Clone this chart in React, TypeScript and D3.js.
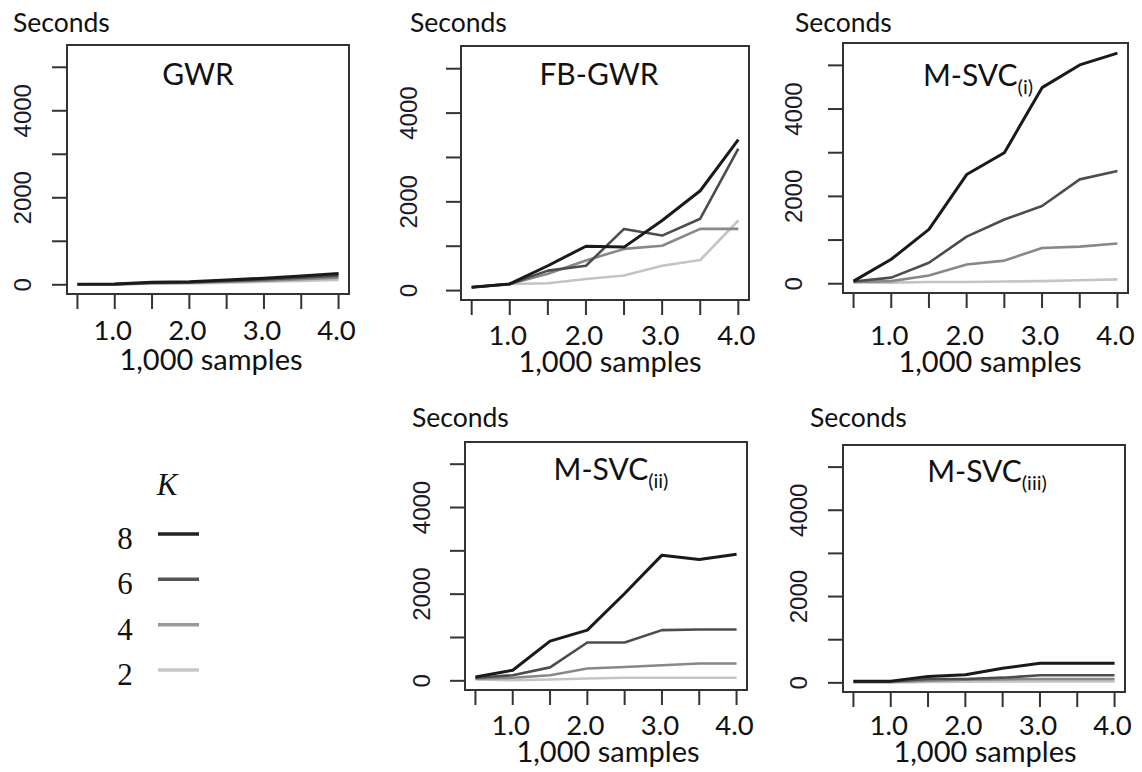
import React from "react";
import * as d3 from "d3";

// ---- Data ----
const xSamples = [0.5, 1.0, 1.5, 2.0, 2.5, 3.0, 3.5, 4.0];
const xTickLabels = [1.0, 2.0, 3.0, 4.0];
const yTicks = [0, 1000, 2000, 3000, 4000, 5000];
const yTickLabels = [0, 2000, 4000];
const kLevels = [8, 6, 4, 2];

const gwrK8 = [15, 20, 60, 70, 110, 150, 200, 260];
const gwrK6 = [10, 15, 45, 55, 90, 120, 160, 210];
const gwrK4 = [8, 10, 35, 45, 70, 95, 130, 160];
const gwrK2 = [5, 8, 25, 30, 50, 70, 90, 110];

const fbK8 = [75, 150, 560, 1000, 980, 1580, 2250, 3400];
const fbK6 = [75, 150, 450, 560, 1390, 1240, 1620, 3200];
const fbK4 = [75, 150, 380, 680, 940, 1010, 1390, 1390];
const fbK2 = [75, 150, 165, 260, 340, 560, 690, 1580];

const m1K8 = [60, 560, 1245, 2500, 3000, 4490, 5010, 5280];
const m1K6 = [50, 140, 480, 1080, 1470, 1780, 2390, 2580];
const m1K4 = [40, 60, 190, 440, 530, 820, 850, 920];
const m1K2 = [30, 25, 40, 40, 50, 60, 80, 100];

const m2K8 = [90, 245, 915, 1170, 2015, 2900, 2800, 2920];
const m2K6 = [70, 130, 310, 885, 885, 1170, 1185, 1185];
const m2K4 = [50, 70, 130, 285, 320, 360, 400, 400];
const m2K2 = [30, 15, 30, 55, 70, 70, 70, 70];

const m3K8 = [40, 40, 150, 190, 340, 455, 455, 455];
const m3K6 = [30, 30, 90, 90, 120, 175, 175, 175];
const m3K4 = [20, 20, 50, 75, 80, 90, 90, 90];
const m3K2 = [10, 10, 20, 25, 30, 35, 35, 35];

const panelTitles = ["GWR", "FB-GWR", "M-SVC", "M-SVC", "M-SVC"];
const panelSubs = ["", "", "(i)", "(ii)", "(iii)"];
const panelSeries = [
  [gwrK8, gwrK6, gwrK4, gwrK2],
  [fbK8, fbK6, fbK4, fbK2],
  [m1K8, m1K6, m1K4, m1K2],
  [m2K8, m2K6, m2K4, m2K2],
  [m3K8, m3K6, m3K4, m3K2],
];

// ---- Styles / layout ----
const lineColors = ["#1a1a1a", "#4d4d4d", "#888888", "#c4c4c4"];
const lineWidths = [3, 2.6, 2.6, 2.6];
const legendColors = ["#222222", "#555555", "#999999", "#c8c8c8"];

const layouts = [
  { l: 67, r: 349, t: 45, b: 294, ylx: 22, secX: 13, secY: 32, titleX: 198, titleY: 85, tlY: 340, xlX: 211, xlY: 370 },
  { l: 461, r: 749, t: 46, b: 300, ylx: 408, secX: 410, secY: 32, titleX: 599, titleY: 85, tlY: 345, xlX: 610, xlY: 372 },
  { l: 843, r: 1128, t: 43, b: 293, ylx: 793, secX: 795, secY: 32, titleX: 978, titleY: 86, tlY: 345, xlX: 990, xlY: 372 },
  { l: 465, r: 747, t: 442, b: 690, ylx: 421, secX: 412, secY: 427, titleX: 611, titleY: 480, tlY: 735, xlX: 608, xlY: 762 },
  { l: 843, r: 1125, t: 445, b: 692, ylx: 798, secX: 810, secY: 427, titleX: 987, titleY: 482, tlY: 735, xlX: 985, xlY: 762 },
];

const sansFont = "Lato, 'Open Sans', sans-serif";
const axisFont = "'Liberation Sans', Arial, sans-serif";
const serifFont = "'Liberation Serif', 'Times New Roman', serif";

function Panel({ idx }: { idx: number }) {
  const L = layouts[idx];
  const x = d3.scaleLinear().domain([0.36, 4.14]).range([L.l, L.r]);
  const y = d3.scaleLinear().domain([-212, 5512]).range([L.b, L.t]);
  const line = d3
    .line<number>()
    .x((_, i) => x(xSamples[i]))
    .y((d) => y(d));
  const series = panelSeries[idx];
  return (
    <g>
      <text x={L.secX} y={L.secY} fontFamily={sansFont} fontSize={26.5} fill="#111">
        Seconds
      </text>
      {series
        .map((s, i) => ({ s, i }))
        .reverse()
        .map(({ s, i }) => (
          <path
            key={i}
            d={line(s) || ""}
            fill="none"
            stroke={lineColors[i]}
            strokeWidth={lineWidths[i]}
            strokeLinejoin="round"
          />
        ))}
      <rect x={L.l} y={L.t} width={L.r - L.l} height={L.b - L.t} fill="none" stroke="#333" strokeWidth={2} />
      {yTicks.map((t) => (
        <line key={t} x1={L.l - 15} x2={L.l} y1={y(t)} y2={y(t)} stroke="#333" strokeWidth={2} />
      ))}
      {yTickLabels.map((t) => (
        <text
          key={t}
          transform={`translate(${L.ylx},${y(t)}) rotate(-90)`}
          textAnchor="middle"
          dominantBaseline="central"
          fontFamily={axisFont}
          fontSize={24}
          fill="#1a1a2a"
        >
          {t}
        </text>
      ))}
      {xSamples.map((t) => (
        <line key={t} x1={x(t)} x2={x(t)} y1={L.b} y2={L.b + 15} stroke="#333" strokeWidth={2} />
      ))}
      {xTickLabels.map((t) => (
        <text
          key={t}
          x={x(t) - 2}
          y={L.tlY}
          textAnchor="middle"
          fontFamily={sansFont}
          fontSize={27.5}
          fill="#111"
        >
          {t.toFixed(1)}
        </text>
      ))}
      <text x={L.xlX} y={L.xlY} textAnchor="middle" fontFamily={sansFont} fontSize={29} fill="#111">
        1,000 samples
      </text>
      <text x={L.titleX} y={L.titleY} textAnchor="middle" fontFamily={sansFont} fontSize={30} fill="#111">
        {panelTitles[idx]}
        {panelSubs[idx] ? (
          <tspan fontSize={20} dy={8}>
            {panelSubs[idx]}
          </tspan>
        ) : null}
      </text>
    </g>
  );
}

function Legend() {
  const ly = d3.scalePoint<number>().domain(kLevels).range([534, 670]);
  return (
    <g>
      <text x={167} y={495} textAnchor="middle" fontFamily={serifFont} fontStyle="italic" fontSize={31} fill="#111">
        K
      </text>
      {kLevels.map((k, i) => (
        <g key={k}>
          <text x={125} y={(ly(k) as number) + 15} textAnchor="middle" fontFamily={serifFont} fontSize={31} fill="#111">
            {k}
          </text>
          <line
            x1={158}
            x2={199}
            y1={ly(k) as number}
            y2={ly(k) as number}
            stroke={legendColors[i]}
            strokeWidth={3.5}
          />
        </g>
      ))}
    </g>
  );
}

export default function App() {
  return (
    <svg
      width={1142}
      height={772}
      style={{ position: "absolute", left: 0, top: 0, background: "#fff" }}
    >
      <rect x={0} y={0} width={1142} height={772} fill="#fff" />
      {layouts.map((_, i) => (
        <Panel key={i} idx={i} />
      ))}
      <Legend />
    </svg>
  );
}
